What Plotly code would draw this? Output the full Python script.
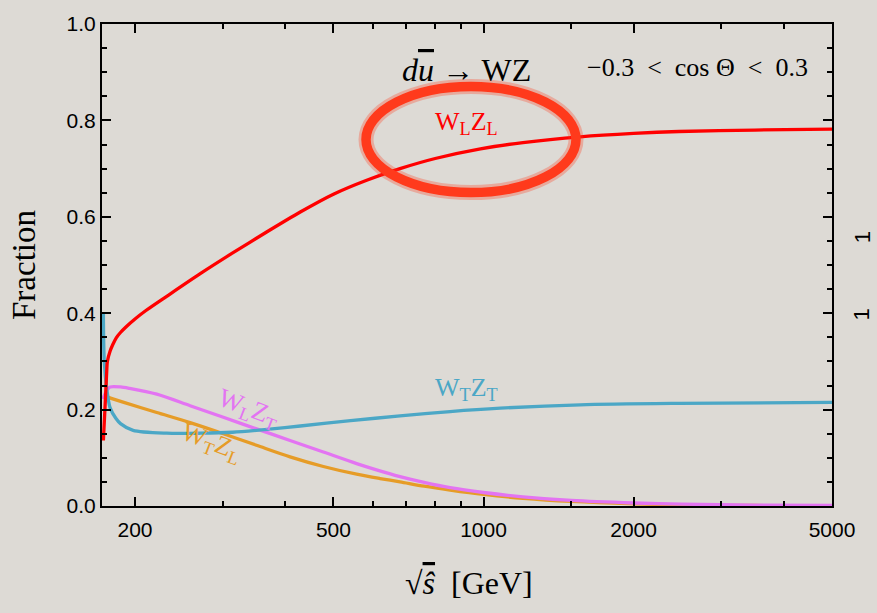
import numpy as np
import plotly.graph_objects as go

# sqrt(s-hat) in GeV and the polarisation fractions of d ubar -> WZ
energy_ll = [172.8, 174.1, 175.5, 176.0, 178.2, 180.5, 183.4, 187.0, 192.0, 200.0, 210.0,
             231.5, 270.3, 314, 368, 429, 500, 583, 680, 800, 986, 1200, 1563, 2000,
             2466, 3500, 5000]
frac_ll = [0.136, 0.204, 0.280, 0.300, 0.321, 0.335, 0.349, 0.360, 0.372, 0.388, 0.405,
           0.435, 0.482, 0.525, 0.569, 0.610, 0.647, 0.676, 0.700, 0.721, 0.741, 0.754,
           0.766, 0.773, 0.777, 0.780, 0.782]

energy_tt = [172.8, 173.5, 175.5, 178.2, 183.0, 187.0, 198.2, 231.5, 270.3, 314, 368, 429,
             541, 680, 857, 1081, 1563, 2466, 5000]
frac_tt = [0.400, 0.300, 0.243, 0.204, 0.182, 0.171, 0.157, 0.151, 0.151, 0.153, 0.159,
           0.166, 0.177, 0.187, 0.196, 0.203, 0.210, 0.213, 0.215]

energy_lt = [172.5, 175.5, 178.2, 187.0, 195.0, 221.1, 257.9, 300.7, 350.5, 409.2, 477.2,
             556.6, 610, 680, 760, 857, 1000, 1200, 1500, 2000, 2500, 3500, 5000]
frac_lt = [0.222, 0.240, 0.247, 0.247, 0.244, 0.232, 0.208, 0.184, 0.160, 0.136, 0.112,
           0.088, 0.075, 0.061, 0.049, 0.038, 0.028, 0.019, 0.0115, 0.0062, 0.0038,
           0.0020, 0.0012]

energy_tl = [172.5, 174.1, 189.9, 221.1, 257.9, 300.7, 350.5, 409.2, 477.2, 556.6, 620,
             680, 760, 857, 1000, 1200, 1500, 2000, 2500, 3500, 5000]
frac_tl = [0.230, 0.228, 0.215, 0.194, 0.173, 0.150, 0.126, 0.102, 0.082, 0.066, 0.057,
           0.050, 0.041, 0.033, 0.024, 0.016, 0.0095, 0.0045, 0.0022, 0.0010, 0.0005]

x_ticks = [200, 500, 1000, 2000, 5000]
x_minor = [300, 400, 600, 700, 800, 900, 1500, 3000, 4000]
x_range = [171.7, 5000]

BG = "#dddad5"
SERIF = "Liberation Serif, Times New Roman, serif"
SANS = "Liberation Sans, Arial, sans-serif"

series = [
    (energy_tl, frac_tl, "#e69c27"),
    (energy_lt, frac_lt, "#e374f2"),
    (energy_tt, frac_tt, "#4ba7c6"),
    (energy_ll, frac_ll, "#ff0000"),
]

fig = go.Figure()
for xs, ys, col in series:
    fig.add_trace(go.Scatter(x=xs, y=ys, mode="lines",
                             line=dict(color=col, width=3.3, shape="spline", smoothing=0.8),
                             hoverinfo="skip", showlegend=False))

axis_common = dict(showline=True, linecolor="black", linewidth=2, mirror="ticks",
                   ticks="inside", ticklen=9, tickwidth=2, tickcolor="black",
                   showgrid=False, zeroline=False,
                   tickfont=dict(family=SANS, size=21, color="black"))

fig.update_xaxes(type="log", range=[np.log10(x_range[0]), np.log10(x_range[1])],
                 tickmode="array", tickvals=x_ticks, ticktext=[str(v) for v in x_ticks],
                 ticklabelstandoff=4,
                 minor=dict(tickmode="array", tickvals=x_minor, ticks="inside",
                            ticklen=5, tickwidth=2, tickcolor="black"),
                 **axis_common)
fig.update_yaxes(range=[0, 1], tickmode="linear", tick0=0, dtick=0.2, tickformat=".1f",
                 minor=dict(dtick=0.05, ticks="inside", ticklen=5, tickwidth=2,
                            tickcolor="black"),
                 **axis_common)

def lx(v):
    return float(np.log10(v))

def px(xp, yp):
    # pixel position on the page -> paper coordinates of the plot area
    return (xp - 102) / 730, (506 - yp) / 486

OVER = '<span style="text-decoration:overline">{}</span>'
SP = "\u2002"

annotations = [
    # curve labels
    dict(x=lx(926), y=0.794, xref="x", yref="y", text="W<sub>L</sub>Z<sub>L</sub>",
         font=dict(family=SERIF, size=26, color="#ff0000")),
    dict(x=lx(926), y=0.243, xref="x", yref="y", text="W<sub>T</sub>Z<sub>T</sub>",
         font=dict(family=SERIF, size=26, color="#4ba7c6")),
    dict(x=lx(338), y=0.202, xref="x", yref="y", text="W<sub>L</sub>Z<sub>T</sub>",
         textangle=21, font=dict(family=SERIF, size=26, color="#e374f2")),
    dict(x=lx(285), y=0.130, xref="x", yref="y", text="W<sub>T</sub>Z<sub>L</sub>",
         textangle=21, font=dict(family=SERIF, size=26, color="#e69c27")),
    # process and angular cut
    dict(xy=px(466, 66), text="<i>d</i>" + OVER.format("<i>u</i>") + " → WZ",
         font=dict(family=SERIF, size=32, color="black")),
    dict(xy=px(697, 64), text="−0.3" + SP + "<" + SP + "cos Θ" + SP + "<" + SP + "0.3",
         font=dict(family=SERIF, size=26, color="black")),
    # axis titles
    dict(xy=px(24, 263), text="Fraction", textangle=-90,
         font=dict(family=SERIF, size=33, color="black")),
    dict(xy=px(469, 584), text="√" + OVER.format("<i>ŝ</i>") + "  [GeV]",
         font=dict(family=SERIF, size=32, color="black")),
    # edge of the neighbouring panel
    dict(xy=px(862, 235), text="1", textangle=-90,
         font=dict(family=SANS, size=22, color="black")),
    dict(xy=px(862, 313), text="1", textangle=-90,
         font=dict(family=SANS, size=22, color="black")),
]
for a in annotations:
    if "xy" in a:
        a["x"], a["y"] = a.pop("xy")
        a["xref"], a["yref"] = "paper", "paper"
    a.update(showarrow=False, xanchor="center", yanchor="middle")
    fig.add_annotation(**a)

# hand-drawn highlight ring around the longitudinal label
x0, y0 = px(366, 190)
x1, y1 = px(576, 83)
ring = dict(type="circle", xref="paper", yref="paper", x0=x0, x1=x1, y0=y0, y1=y1)
fig.add_shape(**ring, line=dict(color="rgba(255,60,30,0.3)", width=15))
fig.add_shape(**ring, line=dict(color="#ff3a1c", width=9.5))

fig.update_layout(width=877, height=613, margin=dict(l=102, r=45, t=20, b=107),
                  paper_bgcolor=BG, plot_bgcolor=BG, showlegend=False)

fig.write_html("out.html")
